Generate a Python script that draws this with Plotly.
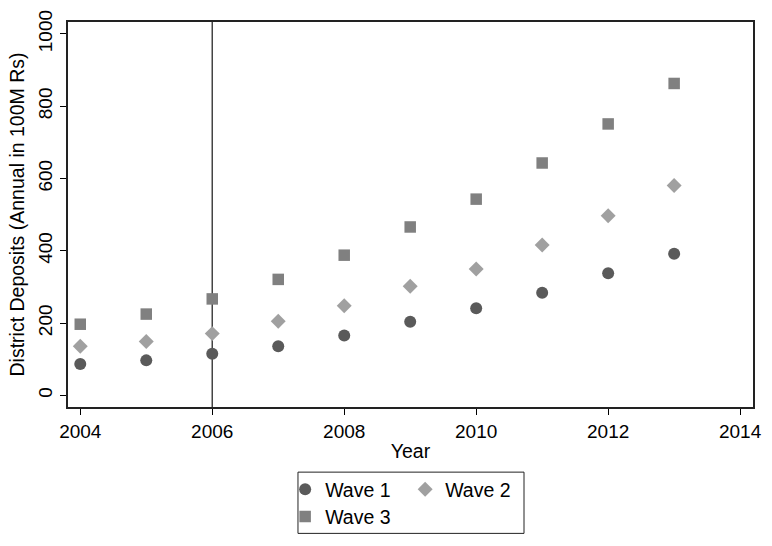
import plotly.graph_objects as go

years = [2004, 2005, 2006, 2007, 2008, 2009, 2010, 2011, 2012, 2013]
wave1 = [87, 97, 115, 136, 166, 204, 241, 284, 338, 392]
wave2 = [136, 149, 171, 205, 248, 302, 350, 416, 497, 581]
wave3 = [197, 225, 267, 321, 388, 466, 543, 643, 751, 863]
event_year = 2006

x_ticks = [2004, 2006, 2008, 2010, 2012, 2014]
y_ticks = [0, 200, 400, 600, 800, 1000]

FONT = "Liberation Sans, Arial, Helvetica, sans-serif"
FS = 19.5
TFS = 19
W, H = 772, 546
L, R, T, B = 68, 10, 19, 131
pw, ph = W - L - R, H - T - B

def px_x(p):
    return (p - L) / pw

def px_y(p):
    return (H - B - p) / ph

fig = go.Figure()
fig.add_trace(go.Scatter(x=years, y=wave1, mode="markers", name="Wave 1",
                         marker=dict(symbol="circle", size=12, color="rgb(90,90,90)"),
                         legend="legend"))
fig.add_trace(go.Scatter(x=years, y=wave2, mode="markers", name="Wave 2",
                         marker=dict(symbol="diamond", size=11.5, color="rgb(160,160,160)"),
                         legend="legend"))
fig.add_trace(go.Scatter(x=years, y=wave3, mode="markers", name="Wave 3",
                         marker=dict(symbol="square", size=11.5, color="rgb(128,128,128)"),
                         legend="legend2"))

fig.add_shape(type="line", xref="x", yref="paper", x0=event_year, x1=event_year,
              y0=0, y1=1, line=dict(color="#444444", width=1.5), layer="below")

fig.add_shape(type="rect", xref="paper", yref="paper",
              x0=px_x(301), x1=px_x(530), y0=px_y(545), y1=px_y(482),
              line=dict(color="#222222", width=1))

legend_common = dict(orientation="h", xanchor="left", yanchor="middle",
                     font=dict(family=FONT, size=FS, color="black"),
                     bgcolor="rgba(0,0,0,0)", borderwidth=0,
                     entrywidth=75, entrywidthmode="pixels",
                     itemclick=False, itemdoubleclick=False)

fig.update_layout(
    width=W, height=H,
    margin=dict(l=L, r=R, t=T, b=B),
    paper_bgcolor="white", plot_bgcolor="white",
    font=dict(family=FONT, size=FS, color="black"),
    showlegend=True,
    legend=dict(x=px_x(288), y=px_y(500), **legend_common),
    legend2=dict(x=px_x(288), y=px_y(528), **legend_common),
    xaxis=dict(range=[2003.814, 2014.195], tickvals=x_ticks,
               ticktext=[str(v) for v in x_ticks],
               ticks="outside", ticklen=6, tickwidth=1, tickcolor="black",
               showline=True, linecolor="#222222", linewidth=2, mirror=True,
               showgrid=False, zeroline=False, ticklabeloverflow="allow",
               title=dict(text="Year", font=dict(size=FS), standoff=4),
               tickfont=dict(size=TFS)),
    yaxis=dict(range=[-32, 1033], tickvals=y_ticks,
               ticktext=[str(v) for v in y_ticks],
               ticks="outside", ticklen=6, tickwidth=1, tickcolor="black",
               tickangle=-90,
               showline=True, linecolor="#222222", linewidth=2, mirror=True,
               showgrid=False, zeroline=False,
               title=dict(text="District Deposits (Annual in 100M Rs)",
                          font=dict(size=FS), standoff=6),
               tickfont=dict(size=TFS)),
)

fig.write_html(
    "out.html",
    config={"displayModeBar": False},
    post_script="document.body.style.margin='0';document.body.style.overflow='hidden';",
)
